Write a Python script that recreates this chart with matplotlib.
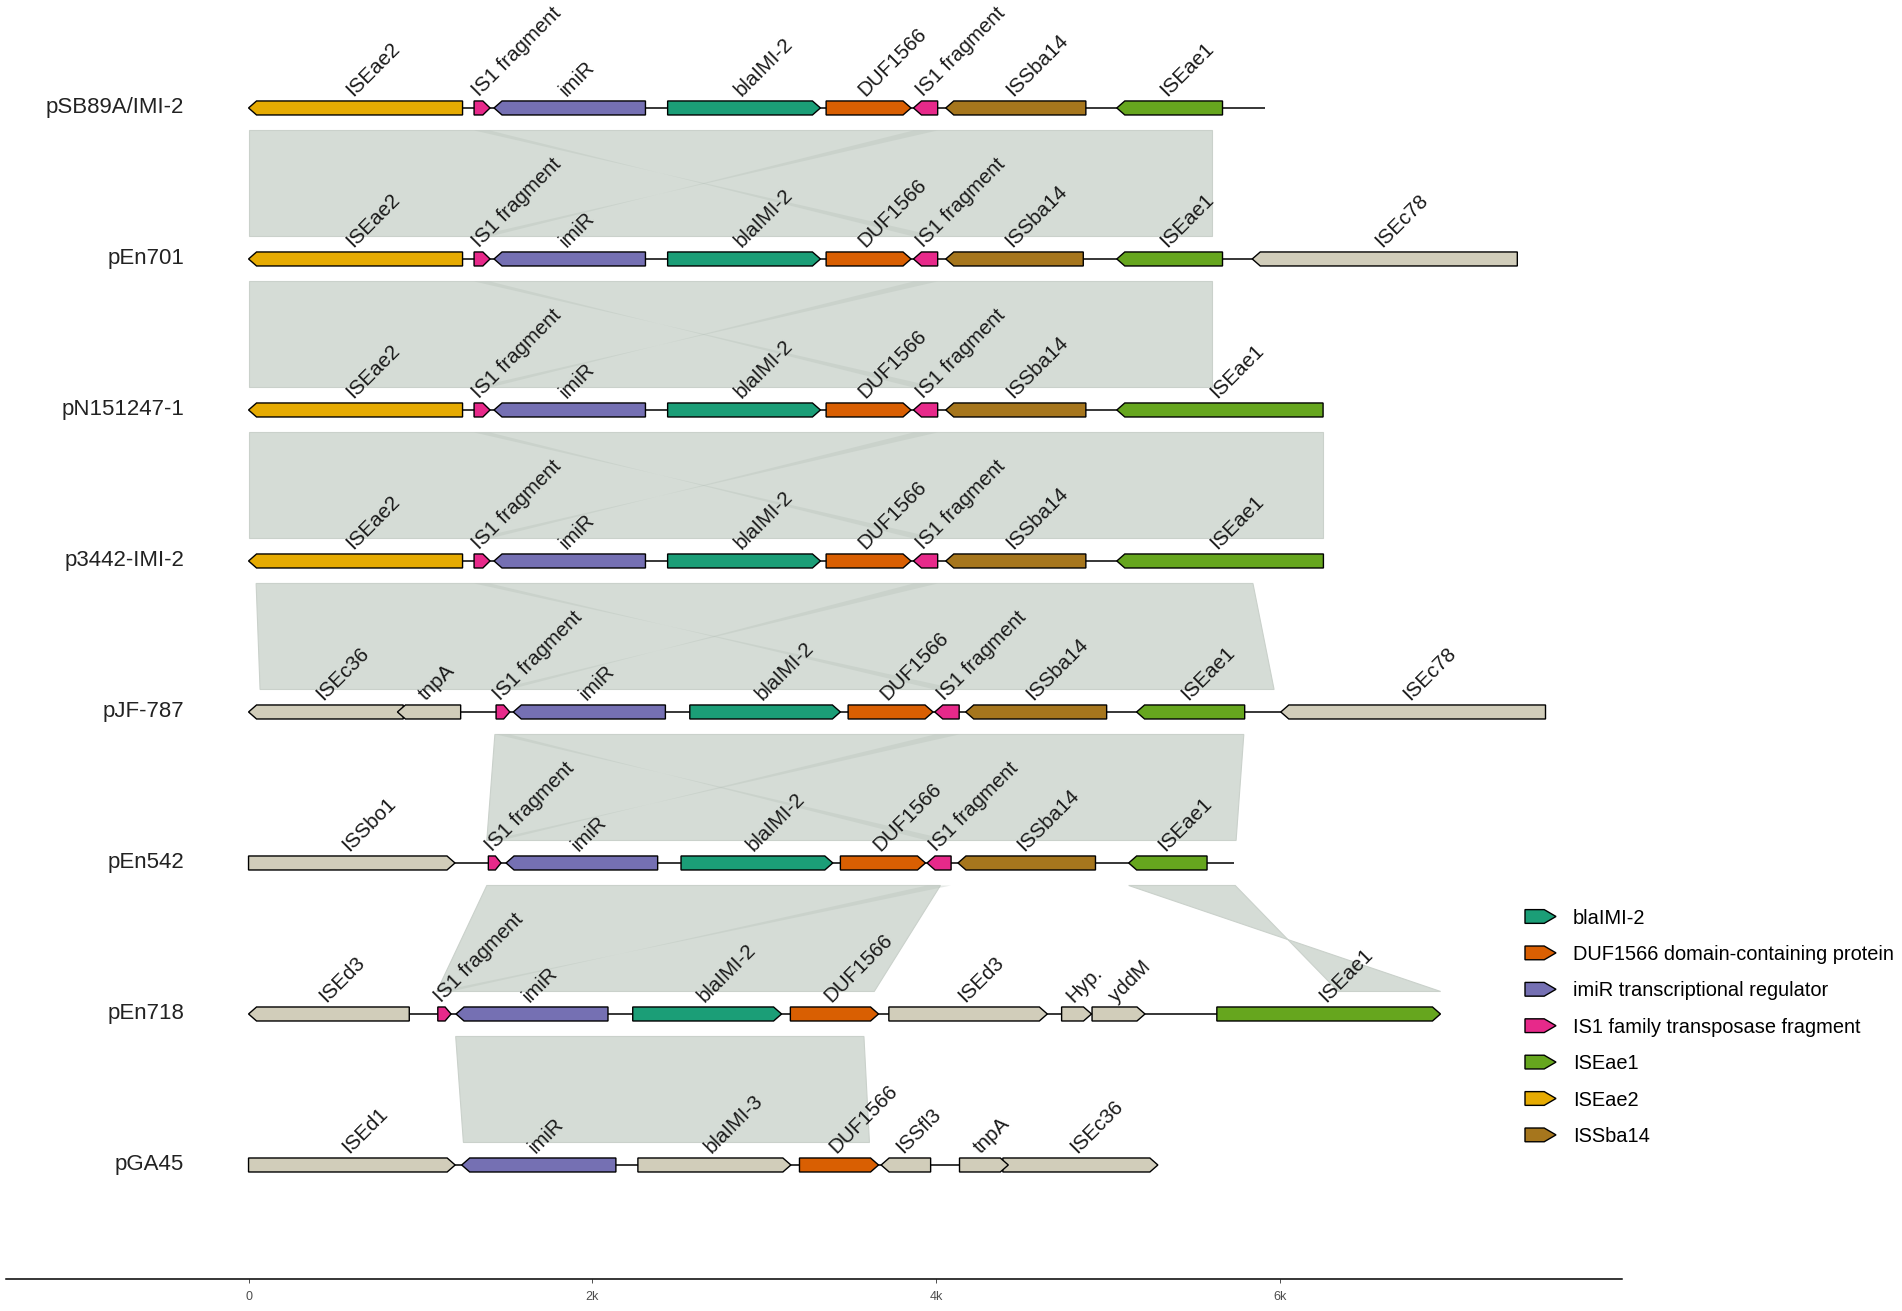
import matplotlib
matplotlib.use('Agg')
import matplotlib.pyplot as plt
from matplotlib.patches import Polygon, Patch
from matplotlib.legend_handler import HandlerBase

plt.rcParams['font.family'] = ['Liberation Sans', 'DejaVu Sans']

# molecules, top to bottom, and their lengths (bp)
rows = ['pSB89A/IMI-2', 'pEn701', 'pN151247-1', 'p3442-IMI-2',
        'pJF-787', 'pEn542', 'pEn718', 'pGA45']
row_len = [5916, 7381, 6251, 6253, 7545, 5732, 6934, 5290]

# genes (listed in drawing order)
gene_row = [0, 0, 0, 0, 0, 0, 0, 0,
            1, 1, 1, 1, 1, 1, 1, 1, 1,
            2, 2, 2, 2, 2, 2, 2, 2,
            3, 3, 3, 3, 3, 3, 3, 3,
            4, 4, 4, 4, 4, 4, 4, 4, 4, 4,
            5, 5, 5, 5, 5, 5, 5, 5,
            6, 6, 6, 6, 6, 6, 6, 6, 6,
            7, 7, 7, 7, 7, 7, 7]
gene_label = ['ISEae2', 'IS1 fragment', 'imiR', 'blaIMI-2', 'DUF1566', 'IS1 fragment', 'ISSba14', 'ISEae1',
              'ISEae2', 'IS1 fragment', 'imiR', 'blaIMI-2', 'DUF1566', 'IS1 fragment', 'ISSba14', 'ISEae1', 'ISEc78',
              'ISEae2', 'IS1 fragment', 'imiR', 'blaIMI-2', 'DUF1566', 'IS1 fragment', 'ISSba14', 'ISEae1',
              'ISEae2', 'IS1 fragment', 'imiR', 'blaIMI-2', 'DUF1566', 'IS1 fragment', 'ISSba14', 'ISEae1',
              'ISEc36', 'tnpA', 'IS1 fragment', 'imiR', 'blaIMI-2', 'DUF1566', 'IS1 fragment', 'ISSba14', 'ISEae1', 'ISEc78',
              'ISSbo1', 'IS1 fragment', 'imiR', 'blaIMI-2', 'DUF1566', 'IS1 fragment', 'ISSba14', 'ISEae1',
              'ISEd3', 'IS1 fragment', 'imiR', 'blaIMI-2', 'DUF1566', 'ISEd3', 'Hyp.', 'yddM', 'ISEae1',
              'ISEd1', 'imiR', 'blaIMI-3', 'DUF1566', 'ISSfl3', 'ISEc36', 'tnpA']
gene_start = [0, 1312, 1428, 2438, 3360, 3868, 4056, 5051,
              0, 1312, 1428, 2438, 3360, 3868, 4056, 5051, 5839,
              0, 1312, 1428, 2438, 3360, 3868, 4056, 5051,
              0, 1312, 1428, 2438, 3360, 3868, 4056, 5051,
              0, 866, 1440, 1540, 2567, 3488, 3992, 4172, 5166, 6005,
              0, 1395, 1498, 2516, 3443, 3947, 4127, 5120,
              0, 1101, 1207, 2235, 3152, 3725, 4730, 4907, 5633,
              0, 1240, 2265, 3205, 3680, 4388, 4136]
gene_end = [1245, 1405, 2309, 3327, 3854, 4009, 4871, 5666,
            1245, 1405, 2309, 3327, 3854, 4009, 4856, 5666, 7381,
            1245, 1405, 2309, 3327, 3854, 4009, 4871, 6251,
            1245, 1405, 2309, 3327, 3854, 4009, 4871, 6253,
            900, 1234, 1520, 2425, 3443, 3982, 4134, 4992, 5795, 7545,
            1201, 1469, 2380, 3399, 3938, 4087, 4927, 5576,
            935, 1178, 2091, 3101, 3665, 4647, 4904, 5215, 6934,
            1202, 2137, 3155, 3665, 3968, 5290, 4420]
gene_fwd = [0, 1, 0, 1, 1, 0, 0, 0,
            0, 1, 0, 1, 1, 0, 0, 0, 0,
            0, 1, 0, 1, 1, 0, 0, 0,
            0, 1, 0, 1, 1, 0, 0, 0,
            0, 0, 1, 0, 1, 1, 0, 0, 0, 0,
            1, 1, 0, 1, 1, 0, 0, 0,
            0, 1, 0, 1, 1, 1, 1, 1, 1,
            1, 0, 1, 1, 0, 1, 1]
gene_type = ['ISEae2', 'IS1', 'imiR', 'blaIMI-2', 'DUF1566', 'IS1', 'ISSba14', 'ISEae1',
             'ISEae2', 'IS1', 'imiR', 'blaIMI-2', 'DUF1566', 'IS1', 'ISSba14', 'ISEae1', 'other',
             'ISEae2', 'IS1', 'imiR', 'blaIMI-2', 'DUF1566', 'IS1', 'ISSba14', 'ISEae1',
             'ISEae2', 'IS1', 'imiR', 'blaIMI-2', 'DUF1566', 'IS1', 'ISSba14', 'ISEae1',
             'other', 'other', 'IS1', 'imiR', 'blaIMI-2', 'DUF1566', 'IS1', 'ISSba14', 'ISEae1', 'other',
             'other', 'IS1', 'imiR', 'blaIMI-2', 'DUF1566', 'IS1', 'ISSba14', 'ISEae1',
             'other', 'IS1', 'imiR', 'blaIMI-2', 'DUF1566', 'other', 'other', 'other', 'ISEae1',
             'other', 'imiR', 'other', 'DUF1566', 'other', 'other', 'other']

# legend
legend_types = ['blaIMI-2', 'DUF1566', 'imiR', 'IS1', 'ISEae1', 'ISEae2', 'ISSba14']
legend_labels = ['blaIMI-2', 'DUF1566 domain-containing protein', 'imiR transcriptional regulator',
                 'IS1 family transposase fragment', 'ISEae1', 'ISEae2', 'ISSba14']
type_colors = {'blaIMI-2': '#1B9E77', 'DUF1566': '#D95F02', 'imiR': '#7570B3',
               'IS1': '#E7298A', 'ISEae1': '#66A61E', 'ISEae2': '#E6AB02',
               'ISSba14': '#A6761D', 'other': '#D1CDBA'}

# homology links between row i (top) and row i+1 (bottom)
link_row = [0, 1, 2, 3, 4, 5, 5, 6]
link_top_start = [0, 0, 0, 44, 1433, 1386, 5120, 1205]
link_top_end = [5603, 5603, 6251, 5843, 5790, 4025, 5740, 3580]
link_bot_start = [0, 0, 0, 67, 1386, 1095, 6935, 1250]
link_bot_end = [5603, 5603, 6251, 5966, 5745, 3640, 6340, 3612]

# inverted IS1 fragment matches inside the links
cross_row = [0, 0, 1, 1, 2, 2, 3, 3, 4, 4, 5]
cross_top_start = [1312, 3868, 1312, 3868, 1312, 3868, 1312, 3868, 1440, 3992, 3947]
cross_top_end = [1405, 4009, 1405, 4009, 1405, 4009, 1405, 4009, 1520, 4134, 4087]
cross_bot_start = [4009, 1405, 4009, 1405, 4009, 1405, 4134, 1520, 4087, 1469, 1178]
cross_bot_end = [3868, 1312, 3868, 1312, 3868, 1312, 3992, 1440, 3947, 1395, 1101]

fig = plt.figure(figsize=(19.02, 13.11), dpi=100)
ax = fig.add_axes([6 / 1902, 32 / 1311, 1616 / 1902, 1279 / 1311])
ax.set_xlim(-1411, 7990)
ax.set_ylim(-7.755, 0.715)

px_x = 9401 / 1616      # bp per pixel
px_y = 8.47 / 1279      # row units per pixel
h = 14 * px_y
head = 8 * px_x
link_gap = 22.5 * px_y

for i in range(len(link_row)):
    yt = -link_row[i] - link_gap
    yb = -link_row[i] - 1 + link_gap
    pts = [(link_top_start[i], yt), (link_top_end[i], yt),
           (link_bot_end[i], yb), (link_bot_start[i], yb)]
    ax.add_patch(Polygon(pts, closed=True, facecolor='#D5DCD6',
                         edgecolor='#CAD1CB', lw=0.8, zorder=1))

for i in range(len(cross_row)):
    yt = -cross_row[i] - link_gap
    yb = -cross_row[i] - 1 + link_gap
    pts = [(cross_top_start[i], yt), (cross_top_end[i], yt),
           (cross_bot_end[i], yb), (cross_bot_start[i], yb)]
    ax.add_patch(Polygon(pts, closed=True, facecolor='#B3BEB6',
                         edgecolor='none', alpha=0.32, zorder=1.5))

for r, name in enumerate(rows):
    ax.plot([0, row_len[r]], [-r, -r], color='black', lw=1.1, zorder=2,
            solid_capstyle='butt')
    ax.text(-375, -r, name, ha='right', va='center', fontsize=16,
            color='#222222')

for i in range(len(gene_row)):
    y = -gene_row[i]
    s, e = gene_start[i], gene_end[i]
    hl = min(head, 0.45 * (e - s))
    if gene_fwd[i]:
        pts = [(s, y - h / 2), (e - hl, y - h / 2), (e, y),
               (e - hl, y + h / 2), (s, y + h / 2)]
    else:
        pts = [(s, y), (s + hl, y - h / 2), (e, y - h / 2),
               (e, y + h / 2), (s + hl, y + h / 2)]
    ax.add_patch(Polygon(pts, closed=True, facecolor=type_colors[gene_type[i]],
                         edgecolor='black', lw=1.0, zorder=3, joinstyle='miter'))
    ax.text((s + e) / 2, y + h / 2 + 1 * px_y, gene_label[i], rotation=45,
            rotation_mode='anchor', ha='left', va='bottom', fontsize=14.8,
            color='#1a1a1a', zorder=4)

for side in ['top', 'left', 'right']:
    ax.spines[side].set_visible(False)
ax.spines['bottom'].set_linewidth(1.1)
ax.set_yticks([])
ax.set_xticks([0, 2000, 4000, 6000])
ax.set_xticklabels(['0', '2k', '4k', '6k'])
ax.tick_params(axis='x', length=3, width=0.6, color='#333333', pad=6,
               labelsize=9, labelcolor='#4D4D4D')


class ArrowHandler(HandlerBase):
    def create_artists(self, legend, orig_handle, xdescent, ydescent,
                       width, height, fontsize, trans):
        x0, y0 = -xdescent, -ydescent
        hl = width * 0.38
        pts = [(x0, y0), (x0 + width - hl, y0), (x0 + width, y0 + height / 2),
               (x0 + width - hl, y0 + height), (x0, y0 + height)]
        p = Polygon(pts, closed=True, facecolor=orig_handle.get_facecolor(),
                    edgecolor='black', lw=1.0, transform=trans)
        return [p]


handles = [Patch(facecolor=type_colors[t], edgecolor='black') for t in legend_types]
fig.legend(handles, legend_labels, handler_map={Patch: ArrowHandler()},
           loc='upper left', bbox_to_anchor=(1525 / 1902, 1 - 908.5 / 1311),
           frameon=False, fontsize=14.4, handlelength=1.55, handleheight=0.68,
           handletextpad=0.85, labelspacing=0.87, borderpad=0, borderaxespad=0)

fig.savefig('out.png', dpi=100)
